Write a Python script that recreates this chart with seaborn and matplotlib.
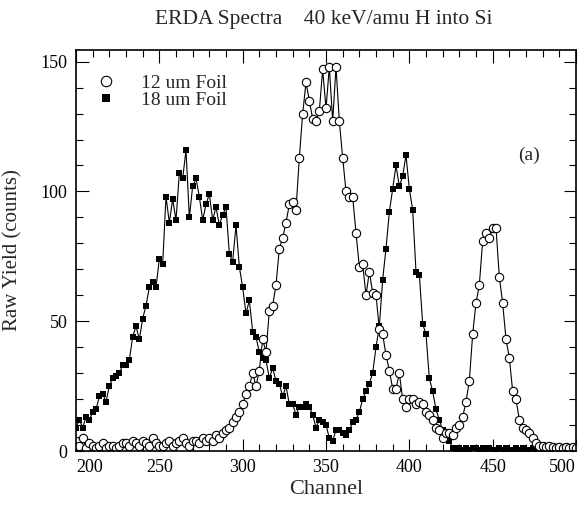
import numpy as np
import pandas as pd
import matplotlib
matplotlib.use("Agg")
import matplotlib.pyplot as plt
from matplotlib.lines import Line2D
from matplotlib.ticker import MultipleLocator
import seaborn as sns

# channels, one point every 2 channels
channel = np.arange(200, 501, 2)

# 12 um foil (open circles)
foil_12um = [4, 2, 5, 1, 3, 2, 1, 2, 3, 1, 2, 2, 1, 2, 3, 3, 2, 4, 3, 2,
             4, 3, 2, 5, 3, 2, 2, 3, 4, 2, 3, 4, 5, 3, 2, 4, 4, 3, 5, 4,
             5, 4, 6, 5, 7, 8,
             9, 11, 13, 15, 18, 22, 25, 30, 25, 31, 43, 38, 54, 56, 64, 78, 82, 88, 95, 96,
             93, 113,
             130, 142, 135, 128, 127, 131, 147, 132, 148, 127, 148, 127, 113, 100, 98, 98,
             84, 71, 72, 60, 69, 61, 60, 47, 45, 37, 31, 24, 24, 30, 20, 17, 20, 20, 18,
             19, 18, 15, 14, 12, 9, 8, 5, 7, 7, 6, 9, 10, 13, 19, 27, 45, 57, 64, 81,
             84, 82, 86, 86, 67, 57, 43, 36, 23, 20, 12, 9, 8, 7, 5, 3, 2, 2, 1.5, 2,
             1.5, 1, 1.5, 1, 1.5, 1, 1.5, 1]

# 18 um foil (filled squares)
foil_18um = [9, 12, 9, 13, 12, 15, 16, 21, 22, 19, 25, 28, 29, 30, 33, 33, 35, 44, 48, 43,
             51, 56, 63, 65, 63, 74, 72, 98, 88, 97, 89, 107, 105, 116,
             90, 102, 105, 98, 89, 95, 99, 89, 94, 87, 91, 94, 76, 73, 87, 71, 63, 53, 58, 46,
             44, 38, 36, 35, 28, 32, 27, 26, 21, 25, 18,
             18, 14, 17, 17, 18, 17, 14, 9, 12, 11, 10, 5, 4, 8, 8, 7, 6, 8, 11, 12,
             15, 20, 23, 26, 30, 40, 48, 66, 78, 92, 101, 110, 102, 106, 114, 101, 93, 69, 68, 49,
             45, 28, 23, 16, 12, 8, 6, 4, 1, 0.5,
             1, 0.5, 1, 0.5, 1, 1, 0.5, 1, 0.5, 1, 0.5, 0.5, 1, 0.5, 1, 0.5, 0.5, 1, 0.5, 1,
             0.5, 0.5, 1, 0.5, 0.5, 1, 0.5, 0.5, 1, 0.5, 0.5, 0.5, 1, 0.5, 0.5, 0.5]

x_ticks = [200, 250, 300, 350, 400, 450, 500]
y_ticks = [0, 50, 100, 150]

df = pd.DataFrame({"Channel": channel, "12 um Foil": foil_12um, "18 um Foil": foil_18um})

sns.set_style("ticks")
plt.rcParams["font.family"] = ["Liberation Serif", "DejaVu Serif"]
plt.rcParams["font.size"] = 13

fig = plt.figure(figsize=(5.83, 5.05), dpi=100)
ax = fig.add_axes([76 / 583, 1 - 451 / 505, 500 / 583, 401 / 505])

sns.lineplot(data=df, x="Channel", y="18 um Foil", ax=ax, color="black", lw=0.8,
             marker="s", ms=4.5, mfc="black", mec="black", mew=0)
sns.lineplot(data=df, x="Channel", y="12 um Foil", ax=ax, color="black", lw=0.8,
             marker="o", ms=6, mfc="white", mec="black", mew=0.8)

ax.set_xlim(200, 500)
ax.set_ylim(0, 154.5)
ax.set_xticks(x_ticks)
ax.set_xticklabels([str(t) for t in x_ticks])
ax.set_yticks(y_ticks)
ax.xaxis.set_minor_locator(MultipleLocator(10))
ax.yaxis.set_minor_locator(MultipleLocator(10))
ax.tick_params(which="both", direction="in", top=True, right=True, width=0.8,
               colors="black", labelsize=13)
ax.tick_params(which="major", length=9, pad=6)
ax.tick_params(which="minor", length=5)
labels = ax.get_xticklabels()
labels[0].set_ha("left")
labels[-1].set_ha("right")
for s in ax.spines.values():
    s.set_linewidth(1.2)
    s.set_color("black")

ax.set_xlabel("Channel", fontsize=16)
ax.set_ylabel("Raw Yield (counts)", fontsize=15)
ax.xaxis.set_label_coords(0.5, -0.073)
ax.yaxis.set_label_coords(-0.108, 0.5)

fig.text(0.555, 0.962, "ERDA Spectra    40 keV/amu H into Si", ha="center", va="center", fontsize=15.5)
ax.text(472, 114, "(a)", ha="center", va="center", fontsize=14)

handles = [Line2D([], [], ls="none", marker="o", ms=7.5, mfc="white", mec="black", mew=0.8),
           Line2D([], [], ls="none", marker="s", ms=5.5, mfc="black", mec="black", mew=0)]
ax.legend(handles, ["12 um Foil", "18 um Foil"], loc="upper left", bbox_to_anchor=(0.033, 0.94),
          frameon=False, handlelength=1.4, handletextpad=1.1, labelspacing=0.0,
          borderpad=0, borderaxespad=0, fontsize=14)

fig.savefig("out.png", dpi=100)
